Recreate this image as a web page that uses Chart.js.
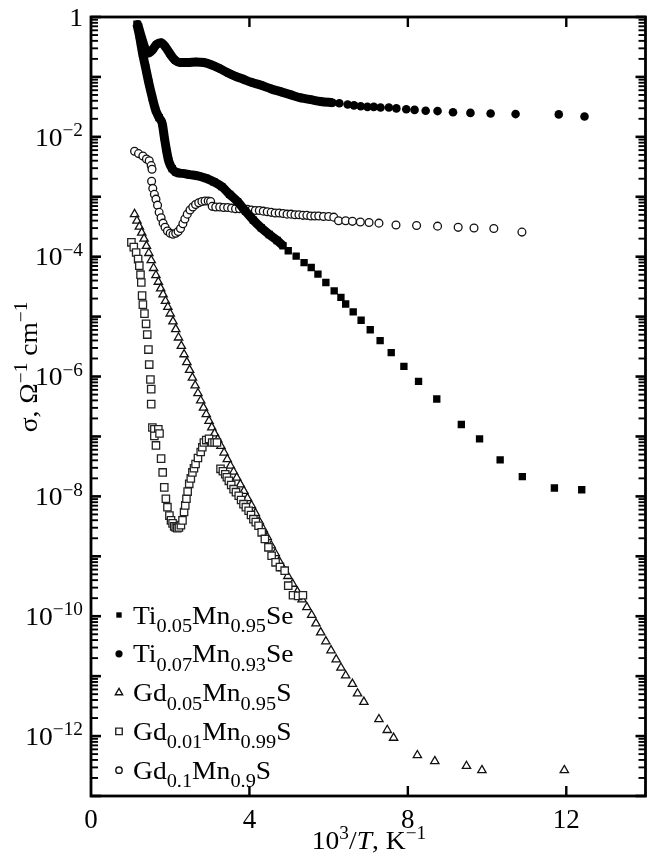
<!DOCTYPE html>
<html><head><meta charset="utf-8">
<script src="https://cdn.jsdelivr.net/npm/chart.js@4.4.1/dist/chart.umd.min.js"></script>
<style>
html,body{margin:0;padding:0;background:#fff;overflow:hidden;width:647px;height:854px}
#wrap{position:absolute;left:0;top:0;width:652px;height:854px}
</style>
</head><body><div id="wrap"><canvas id="c" width="652" height="854"></canvas></div>
<script>
// ---- data: [10^3/T (K^-1), log10 sigma (Ohm^-1 cm^-1)] ----
const xTickValues = [0, 4, 8, 12];
const yLabelExponents = [0, -2, -4, -6, -8, -10, -12];

// Ti0.05Mn0.95Se (filled squares); first part forms a continuous band
const ti005Band = [[1.16,-0.12],[1.22,-0.30],[1.30,-0.60],[1.38,-0.85],[1.46,-1.10],[1.55,-1.35],[1.63,-1.55],[1.72,-1.68],[1.80,-1.78],[1.85,-2.00],[1.90,-2.20],[1.96,-2.40],[2.05,-2.53],[2.15,-2.59],[2.30,-2.61],[2.50,-2.63],[2.70,-2.65],[2.90,-2.69],[3.10,-2.75],[3.30,-2.83],[3.50,-2.96],[3.70,-3.08],[3.90,-3.24],[4.10,-3.39],[4.30,-3.52],[4.50,-3.63],[4.70,-3.73],[4.85,-3.82]];
const ti005Points = [[4.98,-3.90],[5.18,-3.99],[5.38,-4.10],[5.56,-4.18],[5.73,-4.29],[5.93,-4.43],[6.14,-4.57],[6.31,-4.68],[6.43,-4.79],[6.62,-4.92],[6.82,-5.06],[7.05,-5.22],[7.30,-5.40],[7.58,-5.60],[7.90,-5.83],[8.27,-6.08],[8.73,-6.375],[9.35,-6.80],[9.81,-7.04],[10.33,-7.39],[10.89,-7.67],[11.70,-7.86],[12.39,-7.89]];

// Ti0.07Mn0.93Se (filled circles)
const ti007Band = [[1.18,-0.12],[1.28,-0.35],[1.38,-0.55],[1.45,-0.60],[1.55,-0.55],[1.65,-0.46],[1.77,-0.43],[1.88,-0.50],[2.00,-0.62],[2.12,-0.72],[2.25,-0.76],[2.45,-0.76],[2.65,-0.75],[2.85,-0.76],[3.05,-0.80],[3.25,-0.86],[3.45,-0.93],[3.65,-0.99],[3.85,-1.04],[4.05,-1.09],[4.30,-1.14],[4.55,-1.20],[4.80,-1.25],[5.05,-1.30],[5.30,-1.35],[5.55,-1.38],[5.80,-1.41],[6.10,-1.43]];
const ti007Points = [[6.27,-1.44],[6.48,-1.46],[6.64,-1.475],[6.81,-1.49],[6.98,-1.50],[7.14,-1.50],[7.31,-1.51],[7.52,-1.51],[7.71,-1.525],[7.96,-1.54],[8.17,-1.55],[8.45,-1.565],[8.75,-1.57],[9.14,-1.59],[9.58,-1.60],[10.09,-1.61],[10.72,-1.62],[11.81,-1.625],[12.46,-1.66]];

// Gd0.05Mn0.95S (open triangles)
const gd005 = [[1.10,-3.29],[1.16,-3.40],[1.22,-3.50],[1.28,-3.60],[1.34,-3.70],[1.40,-3.82],[1.46,-3.94],[1.52,-4.06],[1.58,-4.19],[1.64,-4.31],[1.70,-4.42],[1.76,-4.53],[1.82,-4.63],[1.88,-4.74],[1.94,-4.84],[2.00,-4.95],[2.07,-5.08],[2.14,-5.21],[2.21,-5.35],[2.28,-5.49],[2.35,-5.63],[2.42,-5.76],[2.49,-5.89],[2.56,-6.02],[2.63,-6.15],[2.70,-6.28],[2.77,-6.40],[2.84,-6.52],[2.91,-6.63],[2.98,-6.74],[3.05,-6.85],[3.12,-6.95],[3.20,-7.05],[3.28,-7.16],[3.36,-7.27],[3.44,-7.38],[3.52,-7.49],[3.60,-7.59],[3.68,-7.69],[3.77,-7.80],[3.86,-7.91],[3.95,-8.03],[4.05,-8.15],[4.15,-8.28],[4.25,-8.42],[4.35,-8.55],[4.45,-8.68],[4.55,-8.82],[4.65,-8.95],[4.75,-9.08],[4.85,-9.20],[4.97,-9.33],[5.09,-9.46],[5.21,-9.59],[5.33,-9.72],[5.45,-9.85],[5.57,-9.98],[5.68,-10.12],[5.80,-10.27],[5.93,-10.42],[6.06,-10.57],[6.19,-10.72],[6.31,-10.86],[6.43,-10.99],[6.60,-11.13],[6.73,-11.29],[6.89,-11.43],[7.27,-11.72],[7.48,-11.90],[7.64,-12.03],[8.24,-12.32],[8.68,-12.42],[9.48,-12.50],[9.87,-12.57],[11.95,-12.57]];

// Gd0.01Mn0.99S (open squares)
const gd001 = [[1.02,-3.76],[1.08,-3.84],[1.14,-3.93],[1.19,-4.04],[1.22,-4.15],[1.25,-4.30],[1.27,-4.43],[1.29,-4.65],[1.31,-4.80],[1.35,-4.95],[1.39,-5.12],[1.42,-5.30],[1.45,-5.55],[1.47,-5.80],[1.50,-6.05],[1.52,-6.21],[1.52,-6.46],[1.55,-6.85],[1.60,-6.88],[1.70,-6.88],[1.60,-6.99],[1.64,-7.15],[1.73,-6.95],[1.77,-7.37],[1.81,-7.60],[1.85,-7.85],[1.89,-8.04],[1.93,-8.18],[1.98,-8.32],[2.02,-8.40],[2.06,-8.45],[2.10,-8.50],[2.14,-8.52],[2.18,-8.53],[2.22,-8.52],[2.27,-8.48],[2.31,-8.40],[2.35,-8.26],[2.38,-8.15],[2.41,-8.04],[2.44,-7.92],[2.48,-7.79],[2.52,-7.70],[2.56,-7.60],[2.60,-7.53],[2.64,-7.46],[2.70,-7.36],[2.77,-7.26],[2.81,-7.18],[2.85,-7.10],[2.91,-7.06],[2.98,-7.04],[3.06,-7.10],[3.12,-7.10],[3.18,-7.10],[3.27,-7.54],[3.33,-7.58],[3.39,-7.63],[3.43,-7.68],[3.48,-7.74],[3.54,-7.81],[3.60,-7.88],[3.66,-7.93],[3.73,-7.99],[3.79,-8.06],[3.85,-8.13],[3.91,-8.18],[3.98,-8.24],[4.04,-8.31],[4.10,-8.38],[4.16,-8.43],[4.23,-8.49],[4.31,-8.60],[4.39,-8.71],[4.48,-8.85],[4.56,-8.99],[4.66,-9.10],[4.77,-9.18],[4.89,-9.24],[4.98,-9.49],[5.10,-9.65],[5.23,-9.66],[5.35,-9.65]];

// Gd0.1Mn0.9S (open circles)
const gd01 = [[1.10,-2.24],[1.20,-2.28],[1.31,-2.32],[1.40,-2.37],[1.47,-2.40],[1.52,-2.48],[1.54,-2.54],[1.53,-2.74],[1.56,-2.86],[1.60,-2.96],[1.64,-3.04],[1.68,-3.14],[1.72,-3.26],[1.77,-3.35],[1.82,-3.44],[1.87,-3.51],[1.93,-3.57],[2.00,-3.61],[2.07,-3.625],[2.14,-3.61],[2.20,-3.58],[2.26,-3.53],[2.32,-3.45],[2.37,-3.37],[2.43,-3.29],[2.50,-3.22],[2.57,-3.17],[2.64,-3.13],[2.72,-3.10],[2.80,-3.08],[2.88,-3.07],[2.96,-3.07],[3.02,-3.08],[3.06,-3.16],[3.15,-3.17],[3.25,-3.17],[3.35,-3.18],[3.45,-3.18],[3.55,-3.19],[3.65,-3.20],[3.75,-3.20],[3.85,-3.21],[3.95,-3.21],[4.05,-3.22],[4.15,-3.23],[4.25,-3.23],[4.35,-3.24],[4.45,-3.25],[4.55,-3.26],[4.65,-3.27],[4.75,-3.27],[4.85,-3.28],[4.95,-3.29],[5.05,-3.29],[5.15,-3.30],[5.25,-3.30],[5.35,-3.31],[5.45,-3.31],[5.55,-3.32],[5.65,-3.32],[5.75,-3.32],[5.87,-3.33],[6.00,-3.33],[6.13,-3.34],[6.25,-3.40],[6.43,-3.40],[6.60,-3.41],[6.80,-3.42],[7.02,-3.43],[7.27,-3.44],[7.70,-3.47],[8.22,-3.48],[8.75,-3.49],[9.27,-3.51],[9.67,-3.52],[10.17,-3.53],[10.88,-3.59]];

// ---- rendering ----
const FONT = "'Liberation Serif','Times New Roman',serif";
const F = 26, HS = 1.06;
const toPts = arr => arr.map(p => ({x: p[0], y: Math.pow(10, p[1])}));

function runFont(r){ const sz = r.s ? F*(r.s==='sub'?0.74:0.7) : F; return (r.i?'italic ':'') + sz.toFixed(1) + 'px ' + FONT; }
function richWidth(ctx, runs){ let w=0; for(const r of runs){ ctx.font=runFont(r); w+=ctx.measureText(r.t).width; } return w*HS; }
function drawRich(ctx, runs, x, y, align){
  const w = richWidth(ctx, runs);
  const sx = align==='right' ? x-w : (align==='center' ? x-w/2 : x);
  ctx.save();
  ctx.translate(sx, y); ctx.scale(HS, 1);
  ctx.textBaseline='alphabetic'; ctx.textAlign='left'; ctx.fillStyle='#000';
  let cx = 0;
  for(const r of runs){
    ctx.font=runFont(r);
    const dy = r.s==='sup' ? -0.37*F : (r.s==='sub' ? 0.33*F : 0);
    ctx.fillText(r.t, cx, dy);
    cx += ctx.measureText(r.t).width;
  }
  ctx.restore();
}

const styles = {
  ti005: {pointStyle:'rect', radius:5.2, fill:'#000', border:'#000', bw:0},
  ti007: {pointStyle:'circle', radius:4.3, fill:'#000', border:'#000', bw:0},
  gd005: {pointStyle:'triangle', radius:4.8, fill:'#fff', border:'#111', bw:1.3},
  gd001: {pointStyle:'rect', radius:5.2, fill:'#fff', border:'#222', bw:1.3},
  gd01:  {pointStyle:'circle', radius:3.9, fill:'#fff', border:'#111', bw:1.3}
};
function ds(data, st, line){
  return {data, pointStyle: st.pointStyle, pointRadius: st.radius, pointBackgroundColor: st.fill,
    pointBorderColor: st.border, pointBorderWidth: st.bw, showLine: !!line, borderColor:'#000',
    borderWidth: line ? 9 : 0, cubicInterpolationMode:'monotone', pointHoverRadius: st.radius};
}

const legendItems = [
  {st: styles.ti005, runs:[{t:'Ti'},{t:'0.05',s:'sub'},{t:'Mn'},{t:'0.95',s:'sub'},{t:'Se'}], r:3.8},
  {st: styles.ti007, runs:[{t:'Ti'},{t:'0.07',s:'sub'},{t:'Mn'},{t:'0.93',s:'sub'},{t:'Se'}], r:3.6},
  {st: styles.gd005, runs:[{t:'Gd'},{t:'0.05',s:'sub'},{t:'Mn'},{t:'0.95',s:'sub'},{t:'S'}], r:4.2},
  {st: styles.gd001, runs:[{t:'Gd'},{t:'0.01',s:'sub'},{t:'Mn'},{t:'0.99',s:'sub'},{t:'S'}], r:4.6},
  {st: styles.gd01,  runs:[{t:'Gd'},{t:'0.1',s:'sub'},{t:'Mn'},{t:'0.9',s:'sub'},{t:'S'}], r:3.2}
];

const decorPlugin = {
  id:'decor',
  afterDraw(chart){
    const ctx = chart.ctx, a = chart.chartArea, xs = chart.scales.x, ys = chart.scales.y;
    ctx.save();
    ctx.strokeStyle='#000'; ctx.lineCap='butt';
    ctx.lineWidth = 2.8;
    ctx.strokeRect(a.left, a.top, a.right-a.left, a.bottom-a.top);
    ctx.lineWidth = 2.4;
    for(const v of xTickValues){
      if (v===0) continue;
      const px = xs.getPixelForValue(v);
      ctx.beginPath(); ctx.moveTo(px, a.bottom); ctx.lineTo(px, a.bottom-10); ctx.stroke();
      ctx.beginPath(); ctx.moveTo(px, a.top); ctx.lineTo(px, a.top+10); ctx.stroke();
    }
    for(let e=0; e>=-13; e--){
      const py = ys.getPixelForValue(Math.pow(10,e));
      ctx.lineWidth = 2.6;
      ctx.beginPath(); ctx.moveTo(a.left, py); ctx.lineTo(a.left+10, py); ctx.stroke();
      ctx.beginPath(); ctx.moveTo(a.right, py); ctx.lineTo(a.right-10, py); ctx.stroke();
      if (e<=-1){
        ctx.lineWidth = 1.9;
        for(let m=2;m<=9;m++){
          const pm = ys.getPixelForValue(m*Math.pow(10,e));
          ctx.beginPath(); ctx.moveTo(a.left, pm); ctx.lineTo(a.left+7, pm); ctx.stroke();
          ctx.beginPath(); ctx.moveTo(a.right, pm); ctx.lineTo(a.right-7, pm); ctx.stroke();
        }
      }
    }
    for(const e of yLabelExponents){
      const py = ys.getPixelForValue(Math.pow(10,e));
      const runs = e===0 ? [{t:'1'}] : [{t:'10'},{t:'\u2212'+(-e),s:'sup'}];
      drawRich(ctx, runs, a.left-8, py+8.8, 'right');
    }
    drawRich(ctx, [{t:'10'},{t:'3',s:'sup'},{t:'/'},{t:'T',i:true},{t:', K'},{t:'\u22121',s:'sup'}],
             369, 849, 'center');
    ctx.save();
    ctx.translate(37, 367); ctx.rotate(-Math.PI/2);
    drawRich(ctx, [{t:'\u03C3, \u03A9'},{t:'\u22121',s:'sup'},{t:' cm'},{t:'\u22121',s:'sup'}], 0, 0, 'center');
    ctx.restore();
    const lx = a.left + 28, ly0 = a.bottom - 181, dy = 38.8;
    legendItems.forEach((it, i) => {
      const y = ly0 + i*dy;
      ctx.fillStyle = it.st.fill; ctx.strokeStyle = it.st.border; ctx.lineWidth = it.st.bw ? 1.4 : 0;
      Chart.helpers.drawPoint(ctx, {pointStyle: it.st.pointStyle, radius: it.r, rotation:0, borderWidth: it.st.bw ? 1.4 : 0}, lx, y);
      drawRich(ctx, it.runs, lx + 14, y + 8.5, 'left');
    });
    ctx.restore();
  }
};

new Chart(document.getElementById('c'), {
  type: 'scatter',
  data: { datasets: [
    ds(toPts(ti005Band), styles.ti005, true),
    ds(toPts(ti005Points), styles.ti005, false),
    ds(toPts(ti007Band), styles.ti007, true),
    ds(toPts(ti007Points), styles.ti007, false),
    ds(toPts(gd01), styles.gd01, false),
    ds(toPts(gd001), styles.gd001, false),
    ds(toPts(gd005), styles.gd005, false)
  ]},
  options: {
    responsive:false, animation:false, devicePixelRatio:1,
    layout:{padding:{top:17, right:1, left:0, bottom:0}},
    plugins:{legend:{display:false}, tooltip:{enabled:false}},
    scales:{
      x:{type:'linear', min:0, max:14, grid:{display:false}, border:{display:false},
         afterBuildTicks: s => { s.ticks = xTickValues.map(v => ({value:v})); },
         ticks:{font:{family:FONT, size:27}, color:'#000', padding:1, maxRotation:0, autoSkip:false,
                callback: v => String(v)},
         afterFit: s => { s.height = 58; }},
      y:{type:'logarithmic', min:1e-13, max:1, grid:{display:false}, border:{display:false},
         ticks:{display:false}, afterFit: s => { s.width = 91; }}
    }
  },
  plugins:[decorPlugin]
});
</script>
</body></html>
